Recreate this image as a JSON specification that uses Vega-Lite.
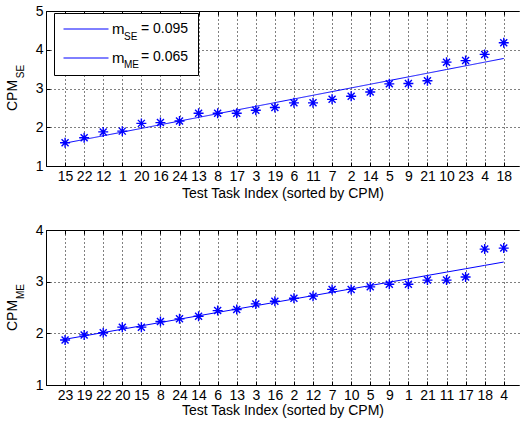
{
  "$schema": "https://vega.github.io/schema/vega-lite/v6.json",
  "background": "white",
  "padding": {"left": 5, "top": 4, "right": 1, "bottom": 5},
  "bounds": "flush",
  "spacing": 64,
  "resolve": {"scale": {"x": "independent", "y": "independent", "color": "independent", "strokeDash": "independent"}},
  "vconcat": [
    {
      "width": 473,
      "height": 155,
      "data": {"values": [
        {"i": 1, "task": "15", "cpm": 1.60, "fit": 1.590, "series": "mSE", "subscript": "SE"},
        {"i": 2, "task": "22", "cpm": 1.73, "fit": 1.685, "series": "mSE", "subscript": "SE"},
        {"i": 3, "task": "12", "cpm": 1.88, "fit": 1.780, "series": "mSE", "subscript": "SE"},
        {"i": 4, "task": "1", "cpm": 1.90, "fit": 1.875, "series": "mSE", "subscript": "SE"},
        {"i": 5, "task": "20", "cpm": 2.10, "fit": 1.970, "series": "mSE", "subscript": "SE"},
        {"i": 6, "task": "16", "cpm": 2.12, "fit": 2.065, "series": "mSE", "subscript": "SE"},
        {"i": 7, "task": "24", "cpm": 2.16, "fit": 2.160, "series": "mSE", "subscript": "SE"},
        {"i": 8, "task": "13", "cpm": 2.36, "fit": 2.255, "series": "mSE", "subscript": "SE"},
        {"i": 9, "task": "8", "cpm": 2.36, "fit": 2.350, "series": "mSE", "subscript": "SE"},
        {"i": 10, "task": "17", "cpm": 2.36, "fit": 2.445, "series": "mSE", "subscript": "SE"},
        {"i": 11, "task": "3", "cpm": 2.44, "fit": 2.540, "series": "mSE", "subscript": "SE"},
        {"i": 12, "task": "19", "cpm": 2.51, "fit": 2.635, "series": "mSE", "subscript": "SE"},
        {"i": 13, "task": "6", "cpm": 2.63, "fit": 2.730, "series": "mSE", "subscript": "SE"},
        {"i": 14, "task": "11", "cpm": 2.63, "fit": 2.825, "series": "mSE", "subscript": "SE"},
        {"i": 15, "task": "7", "cpm": 2.72, "fit": 2.920, "series": "mSE", "subscript": "SE"},
        {"i": 16, "task": "2", "cpm": 2.80, "fit": 3.015, "series": "mSE", "subscript": "SE"},
        {"i": 17, "task": "14", "cpm": 2.91, "fit": 3.110, "series": "mSE", "subscript": "SE"},
        {"i": 18, "task": "5", "cpm": 3.12, "fit": 3.205, "series": "mSE", "subscript": "SE"},
        {"i": 19, "task": "9", "cpm": 3.13, "fit": 3.300, "series": "mSE", "subscript": "SE"},
        {"i": 20, "task": "21", "cpm": 3.20, "fit": 3.395, "series": "mSE", "subscript": "SE"},
        {"i": 21, "task": "10", "cpm": 3.68, "fit": 3.490, "series": "mSE", "subscript": "SE"},
        {"i": 22, "task": "23", "cpm": 3.72, "fit": 3.585, "series": "mSE", "subscript": "SE"},
        {"i": 23, "task": "4", "cpm": 3.88, "fit": 3.680, "series": "mSE", "subscript": "SE"},
        {"i": 24, "task": "18", "cpm": 4.18, "fit": 3.775, "series": "mSE", "subscript": "SE"}
      ]},
      "layer": [
        {
          "mark": {"type": "line", "color": "#0000ff", "strokeWidth": 1},
          "encoding": {
            "x": {"field": "i", "type": "quantitative", "scale": {"domain": [0, 24.8], "nice": false, "zero": false},
                  "axis": {"orient": "top", "labels": false, "title": null, "grid": false, "domain": true, "ticks": true, "tickSize": -4, "values": [1,2,3,4,5,6,7,8,9,10,11,12,13,14,15,16,17,18,19,20,21,22,23,24]}},
            "y": {"field": "fit", "type": "quantitative", "scale": {"domain": [1, 5], "nice": false, "zero": false},
                  "axis": {"orient": "left", "labels": false, "ticks": false, "domain": false, "grid": false, "title": "SE", "titleFontSize": 10, "titleX": -23, "titleY": 60, "titleAlign": "center", "titleBaseline": "alphabetic", "titleAngle": 270}},
            "color": {"field": "series", "type": "nominal",
                      "scale": {"domain": ["mSE", "mME"], "range": ["#0000ff", "#0000ff"]},
                      "legend": {"title": ["= 0.095", "= 0.065"], "titleOrient": "right", "titleAnchor": "start", "titleBaseline": "top", "titleFontSize": 14, "titleFontWeight": "normal", "titleLineHeight": 28, "titlePadding": 17, "titleColor": "#000", "titleFont": "Liberation Sans", "titleLimit": 300,
                                 "labelExpr": "'m'", "orient": "none", "legendX": 8, "legendY": 2, "padding": 9, "strokeColor": "#000", "fillColor": "#fff", "symbolType": "stroke", "symbolSize": 2025, "symbolStrokeWidth": 1, "labelFontSize": 15, "labelOffset": 3, "clipHeight": 14, "rowPadding": 14, "labelColor": "#000", "labelFont": "Liberation Sans"}},
            "strokeDash": {"field": "subscript", "type": "nominal",
                      "scale": {"domain": ["SE", "ME"], "range": [[1, 0], [1, 0]]},
                      "legend": {"title": null, "orient": "none", "legendX": 68, "legendY": 18.7, "padding": 0, "symbolOpacity": 0, "symbolSize": 1, "symbolStrokeWidth": 0, "labelOffset": 0, "labelFontSize": 10, "clipHeight": 14, "rowPadding": 14, "labelColor": "#000", "labelFont": "Liberation Sans"}}
          }
        },
        {
          "mark": {"type": "point", "shape": "M-1,0L1,0M0,-1L0,1M-0.7,-0.7L0.7,0.7M-0.7,0.7L0.7,-0.7", "size": 100, "filled": false, "stroke": "#0000ff", "strokeWidth": 1.4, "opacity": 1},
          "encoding": {
            "x": {"field": "i", "type": "quantitative", "scale": {"domain": [0, 24.8], "nice": false, "zero": false},
                  "axis": {"orient": "bottom", "grid": true, "title": "Test Task Index (sorted by CPM)", "titlePadding": 3, "values": [1,2,3,4,5,6,7,8,9,10,11,12,13,14,15,16,17,18,19,20,21,22,23,24],
                           "labelExpr": "['15','22','12','1','20','16','24','13','8','17','3','19','6','11','7','2','14','5','9','21','10','23','4','18'][datum.value - 1]"}},
            "y": {"field": "cpm", "type": "quantitative", "scale": {"domain": [1, 5], "nice": false, "zero": false},
                  "axis": {"orient": "left", "grid": true, "values": [1, 2, 3, 4, 5], "title": "CPM", "titleFontSize": 14, "titleX": -29.7, "titleY": 84, "titleAlign": "center", "titleBaseline": "alphabetic", "titleAngle": 270}}
          }
        }
      ],
      "resolve": {"axis": {"x": "independent", "y": "independent"}}
    },
    {
      "width": 473,
      "height": 155,
      "data": {"values": [
        {"i": 1, "task": "23", "cpm": 1.87, "fit": 1.885},
        {"i": 2, "task": "19", "cpm": 1.97, "fit": 1.950},
        {"i": 3, "task": "22", "cpm": 2.01, "fit": 2.015},
        {"i": 4, "task": "20", "cpm": 2.12, "fit": 2.080},
        {"i": 5, "task": "15", "cpm": 2.12, "fit": 2.145},
        {"i": 6, "task": "8", "cpm": 2.23, "fit": 2.210},
        {"i": 7, "task": "24", "cpm": 2.28, "fit": 2.275},
        {"i": 8, "task": "14", "cpm": 2.33, "fit": 2.340},
        {"i": 9, "task": "6", "cpm": 2.44, "fit": 2.405},
        {"i": 10, "task": "13", "cpm": 2.46, "fit": 2.470},
        {"i": 11, "task": "3", "cpm": 2.57, "fit": 2.535},
        {"i": 12, "task": "16", "cpm": 2.62, "fit": 2.600},
        {"i": 13, "task": "2", "cpm": 2.68, "fit": 2.665},
        {"i": 14, "task": "12", "cpm": 2.72, "fit": 2.730},
        {"i": 15, "task": "7", "cpm": 2.85, "fit": 2.795},
        {"i": 16, "task": "10", "cpm": 2.85, "fit": 2.860},
        {"i": 17, "task": "5", "cpm": 2.90, "fit": 2.925},
        {"i": 18, "task": "9", "cpm": 2.95, "fit": 2.990},
        {"i": 19, "task": "1", "cpm": 2.95, "fit": 3.055},
        {"i": 20, "task": "21", "cpm": 3.03, "fit": 3.120},
        {"i": 21, "task": "11", "cpm": 3.03, "fit": 3.185},
        {"i": 22, "task": "17", "cpm": 3.09, "fit": 3.250},
        {"i": 23, "task": "18", "cpm": 3.63, "fit": 3.315},
        {"i": 24, "task": "4", "cpm": 3.65, "fit": 3.380}
      ]},
      "layer": [
        {
          "mark": {"type": "line", "color": "#0000ff", "strokeWidth": 1},
          "encoding": {
            "x": {"field": "i", "type": "quantitative", "scale": {"domain": [0, 24.8], "nice": false, "zero": false},
                  "axis": {"orient": "top", "labels": false, "title": null, "grid": false, "domain": true, "ticks": true, "tickSize": -4, "values": [1,2,3,4,5,6,7,8,9,10,11,12,13,14,15,16,17,18,19,20,21,22,23,24]}},
            "y": {"field": "fit", "type": "quantitative", "scale": {"domain": [1, 4], "nice": false, "zero": false},
                  "axis": {"orient": "left", "labels": false, "ticks": false, "domain": false, "grid": false, "title": "ME", "titleFontSize": 10, "titleX": -23, "titleY": 61, "titleAlign": "center", "titleBaseline": "alphabetic", "titleAngle": 270}}
          }
        },
        {
          "mark": {"type": "point", "shape": "M-1,0L1,0M0,-1L0,1M-0.7,-0.7L0.7,0.7M-0.7,0.7L0.7,-0.7", "size": 100, "filled": false, "stroke": "#0000ff", "strokeWidth": 1.4, "opacity": 1},
          "encoding": {
            "x": {"field": "i", "type": "quantitative", "scale": {"domain": [0, 24.8], "nice": false, "zero": false},
                  "axis": {"orient": "bottom", "grid": true, "title": "Test Task Index (sorted by CPM)", "values": [1,2,3,4,5,6,7,8,9,10,11,12,13,14,15,16,17,18,19,20,21,22,23,24],
                           "labelExpr": "['23','19','22','20','15','8','24','14','6','13','3','16','2','12','7','10','5','9','1','21','11','17','18','4'][datum.value - 1]"}},
            "y": {"field": "cpm", "type": "quantitative", "scale": {"domain": [1, 4], "nice": false, "zero": false},
                  "axis": {"orient": "left", "grid": true, "values": [1, 2, 3, 4], "title": "CPM", "titleFontSize": 14, "titleX": -29.7, "titleY": 85, "titleAlign": "center", "titleBaseline": "alphabetic", "titleAngle": 270}}
          }
        }
      ],
      "resolve": {"axis": {"x": "independent", "y": "independent"}}
    }
  ],
  "config": {
    "font": "Liberation Sans",
    "view": {"stroke": null},
    "axis": {
      "labelFont": "Liberation Sans", "labelFontSize": 14, "labelColor": "#000",
      "titleFont": "Liberation Sans", "titleFontSize": 14, "titleFontWeight": "normal", "titleColor": "#000", "titlePadding": 1,
      "domainColor": "#000", "domainWidth": 1, "tickColor": "#000", "tickWidth": 1, "tickSize": -4,
      "labelPadding": 7, "labelOverlap": false, "labelFlush": false, "labelBound": false,
      "gridColor": "#000", "gridOpacity": 1, "gridDash": [1, 3], "gridWidth": 1
    },
    "legend": {"labelFont": "Liberation Sans", "titleFont": "Liberation Sans"}
  }
}
